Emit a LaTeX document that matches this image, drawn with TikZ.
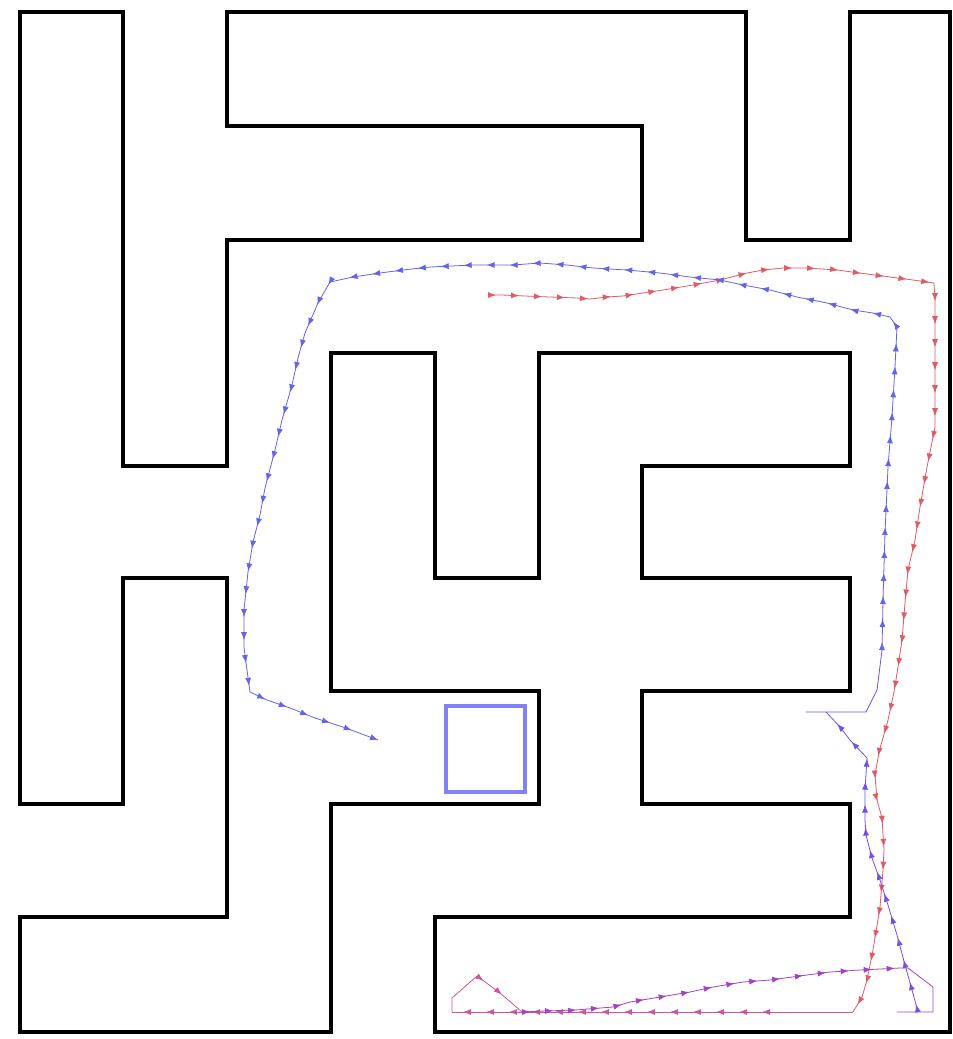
\documentclass[tikz,border=0pt]{standalone}
\usetikzlibrary{decorations.markings,arrows.meta}
\definecolor{redpath}{RGB}{225,90,100}
\definecolor{pinkpath}{RGB}{205,85,155}
\definecolor{purplepath}{RGB}{165,65,195}
\definecolor{bluepurple}{RGB}{118,80,228}
\definecolor{bluepath}{RGB}{100,100,235}
\definecolor{goalblue}{RGB}{130,130,248}
\tikzset{
  wall/.style={line width=3.6pt, line join=miter, draw=black},
  trajline/.style={line width=0.8pt, line join=round},
  traj/.style={trajline, postaction={decorate},
    decoration={markings, mark=between positions 8pt and -4pt step 23pt with {\arrow{Latex[length=8pt,width=6pt]}}}},
  trajend/.style={trajline, postaction={decorate},
    decoration={markings, mark=between positions 8pt and -12pt step 23pt with {\arrow{Latex[length=8pt,width=6pt]}},
      mark=at position 1 with {\arrow{Latex[length=8pt,width=6pt]}}}},
  goal/.style={line width=3.4pt, draw=goalblue},
}
\begin{document}
\begin{tikzpicture}[x=1pt,y=-1pt]
\useasboundingbox (0,0) rectangle (953,1039);
\fill[white] (0,0) rectangle (953,1039);
% maze walls
\draw[wall] (20,12) -- (20,804) -- (123,804) -- (123,578) -- (227,578) -- (227,917) -- (20,917) -- (20,1032) -- (331,1032) -- (331,804) -- (539,804) -- (539,691) -- (331,691) -- (331,353) -- (435,353) -- (435,578) -- (539,578) -- (539,353) -- (850,353) -- (850,466) -- (642,466) -- (642,578) -- (850,578) -- (850,691) -- (642,691) -- (642,804) -- (850,804) -- (850,917) -- (435,917) -- (435,1032) -- (950,1032) -- (950,12) -- (850,12) -- (850,240) -- (746,240) -- (746,12) -- (227,12) -- (227,126) -- (642,126) -- (642,240) -- (227,240) -- (227,466) -- (123,466) -- (123,12) -- cycle;
% goal square
\draw[goal] (446,706) rectangle (525,792);
% trajectory: red part
\draw[traj, color=redpath] (488,295) -- (502,295) -- (525,296) -- (550,297) -- (577,298) -- (590,299) -- (607,297) -- (623,296) -- (643,293) -- (663,290) -- (693,285) -- (720,280) -- (747,273) -- (763,270) -- (783,268) -- (807,268) -- (837,270) -- (867,274) -- (890,277) -- (913,280) -- (934,283) -- (935,300) -- (935,427) -- (927,467) -- (920,507) -- (915,540) -- (908,570) -- (905,603) -- (902,640) -- (898,667) -- (894,692) -- (888,720) -- (879,752) -- (875,775) -- (877,800) -- (882,818) -- (884,850) -- (883,870) -- (880,907) -- (873,950) -- (867,980) -- (862,997) -- (853,1012);
% pink part
\draw[trajline, color=pinkpath] (853,1012) -- (770,1012);
\draw[traj, color=pinkpath] (770,1012) -- (452,1012);
\draw[trajline, color=pinkpath] (452,1012) -- (452,998) -- (477,976);
\draw[traj, color=pinkpath] (477,976) -- (500,993) -- (522,1012);
% purple part
\draw[traj, color=purplepath] (522,1012) -- (545,1011) -- (575,1010) -- (613,1007) -- (630,1002) -- (660,997) -- (690,992) -- (713,987) -- (743,982) -- (770,980) -- (807,975) -- (830,972) -- (860,970) -- (900,968);
\draw[trajline, color=purplepath] (900,968) -- (908,968) -- (933,987) -- (933,1012) -- (897,1012) -- (918,1012);
% blue-purple part
\draw[traj, color=bluepurple] (918,1012) -- (912,990) -- (905,965) -- (897,935) -- (888,905) -- (880,880) -- (872,858) -- (866,835) -- (865,820) -- (865,790) -- (867,758) -- (850,740) -- (840,727) -- (826,712);
\draw[trajline, color=bluepurple] (826,712) -- (806,712) -- (866,712) -- (877,690) -- (882,650);
% blue part
\draw[trajend, color=bluepath] (882,650) -- (883,600) -- (885,533) -- (888,467) -- (892,417) -- (895,367) -- (897,327) -- (890,317) -- (873,313) -- (853,310) -- (827,303) -- (797,297) -- (770,290) -- (743,285) -- (720,280) -- (690,277) -- (660,273) -- (627,270) -- (593,268) -- (567,265) -- (540,263) -- (513,265) -- (473,265) -- (430,267) -- (403,270) -- (380,273) -- (353,277) -- (330,282) -- (318,303) -- (305,333) -- (298,358) -- (292,385) -- (282,420) -- (275,450) -- (265,488) -- (260,515) -- (253,542) -- (248,572) -- (244,610) -- (244,647) -- (246,663) -- (250,692) -- (267,700) -- (290,708) -- (315,718) -- (343,727) -- (378,740);
\end{tikzpicture}
\end{document}
